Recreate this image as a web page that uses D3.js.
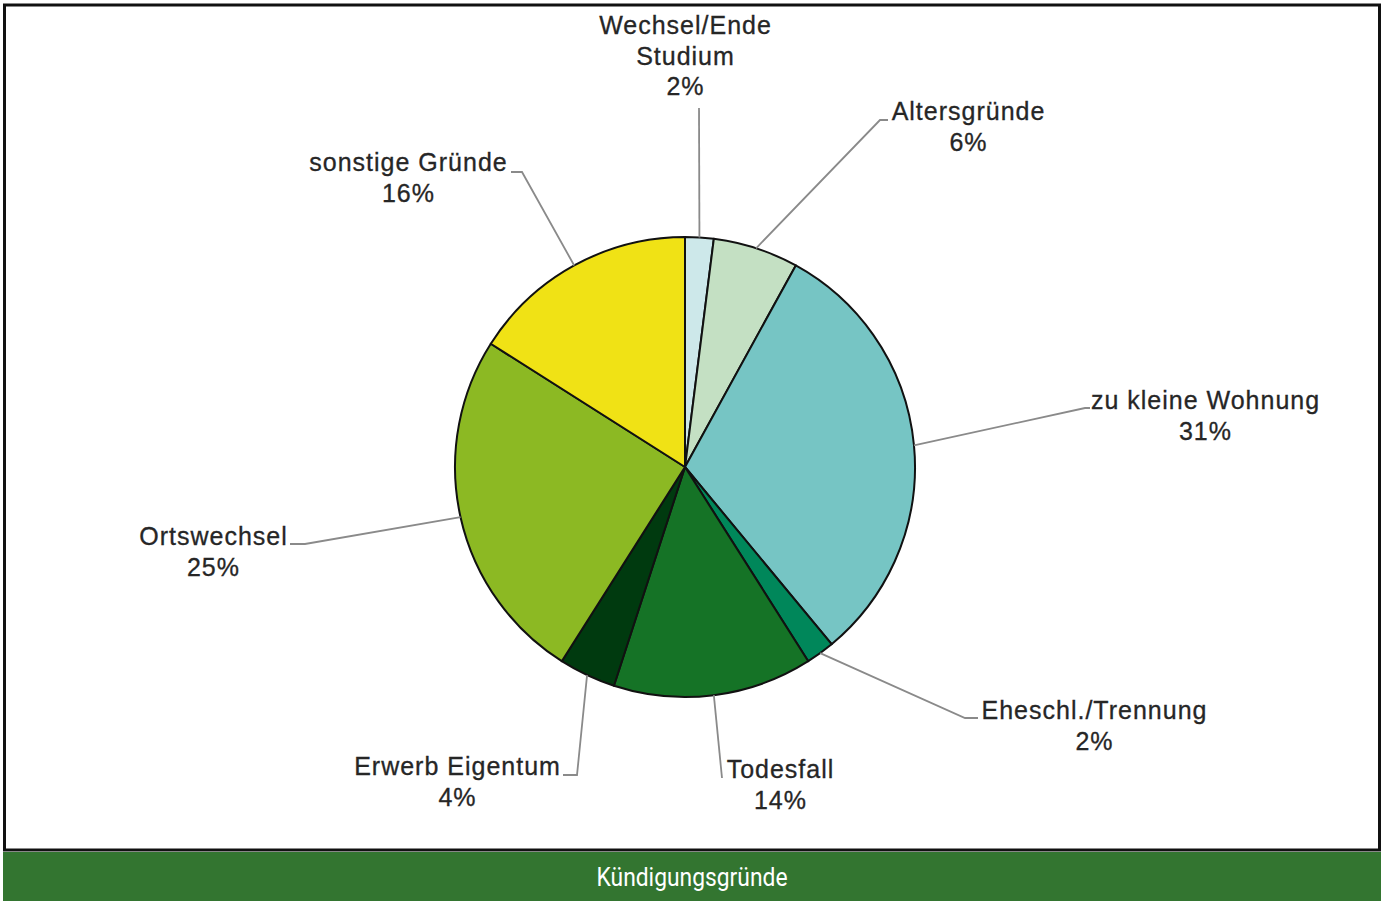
<!DOCTYPE html>
<html>
<head>
<meta charset="utf-8">
<script src="https://cdn.jsdelivr.net/npm/d3@7"></script>
<style>
  html, body { margin: 0; padding: 0; background: #ffffff; }
  svg { display: block; }
</style>
</head>
<body>
<svg id="chart" width="1386" height="901"></svg>
<script>
// Reasons for tenancy termination, share in percent (clockwise from 12 o'clock)
const categories = [
  "Wechsel/Ende\nStudium",
  "Altersgründe",
  "zu kleine Wohnung",
  "Eheschl./Trennung",
  "Todesfall",
  "Erwerb Eigentum",
  "Ortswechsel",
  "sonstige Gründe"
];
const values = [2, 6, 31, 2, 14, 4, 25, 16];
const colors = ["#cde8ea", "#c4e0c3", "#76c5c4", "#00875a", "#157326", "#003a0f", "#8cb923", "#f0e215"];
const title = "Kündigungsgründe";

// Label placement: label centre x, first baseline y, elbow of the leader line, end of the leader line
const labelLayout = [
  { x: 685,  y: 34,  elbow: [699, 108],  end: [699, 108] },
  { x: 968,  y: 120, elbow: [880, 120],  end: [888, 120] },
  { x: 1205, y: 409, elbow: [1085, 408], end: [1090, 408] },
  { x: 1094, y: 719, elbow: [965, 718],  end: [978, 718] },
  { x: 780,  y: 778, elbow: [722, 778],  end: [722, 778] },
  { x: 457,  y: 775, elbow: [577, 775],  end: [563, 775] },
  { x: 213,  y: 545, elbow: [305, 544],  end: [290, 544] },
  { x: 408,  y: 171, elbow: [522, 172],  end: [511, 172] }
];

const cx = 685, cy = 467, R = 230;

const svg = d3.select("#chart");

// outer frame
svg.append("rect")
  .attr("x", 4.5).attr("y", 5).attr("width", 1375).attr("height", 845)
  .attr("fill", "#ffffff").attr("stroke", "#111").attr("stroke-width", 3);

// title banner
svg.append("rect")
  .attr("x", 3).attr("y", 852).attr("width", 1378).attr("height", 49)
  .attr("fill", "#337530");
svg.append("text")
  .attr("x", 692).attr("y", 886)
  .attr("text-anchor", "middle")
  .attr("font-family", "Roboto, 'Liberation Sans Narrow', sans-serif")
  .attr("font-size", 25)
  .attr("fill", "#ffffff")
  .attr("textLength", 191)
  .attr("lengthAdjust", "spacingAndGlyphs")
  .text(title);

const data = categories.map((c, i) => ({ name: c, value: values[i], color: colors[i], layout: labelLayout[i] }));

const pie = d3.pie().value(d => d.value).sort(null);
const arcs = pie(data);
const arc = d3.arc().innerRadius(0).outerRadius(R);
const rim = d3.arc().innerRadius(R).outerRadius(R);

const g = svg.append("g").attr("transform", `translate(${cx},${cy})`);

// leader lines
arcs.forEach(a => {
  const p = rim.centroid(a);
  const L = a.data.layout;
  const pts = [[p[0] + cx, p[1] + cy], L.elbow, L.end];
  svg.append("path")
    .attr("d", d3.line()(pts))
    .attr("fill", "none")
    .attr("stroke", "#8a8a8a")
    .attr("stroke-width", 1.8);
});

// slices
g.selectAll("path.slice")
  .data(arcs)
  .join("path")
  .attr("class", "slice")
  .attr("d", arc)
  .attr("fill", d => d.data.color)
  .attr("stroke", "#111")
  .attr("stroke-width", 2)
  .attr("stroke-linejoin", "round");

// data labels
arcs.forEach(a => {
  const L = a.data.layout;
  const lines = a.data.name.split("\n").concat([a.data.value + "%"]);
  const t = svg.append("text")
    .attr("text-anchor", "middle")
    .attr("font-family", "'Liberation Sans', Arial, sans-serif")
    .attr("font-size", 25)
    .attr("letter-spacing", 1)
    .attr("fill", "#262626")
    .attr("stroke", "#262626")
    .attr("stroke-width", 0.3);
  lines.forEach((ln, k) => {
    t.append("tspan").attr("x", L.x + 0.5).attr("y", L.y + k * 30.5).text(ln);
  });
});
</script>
</body>
</html>
